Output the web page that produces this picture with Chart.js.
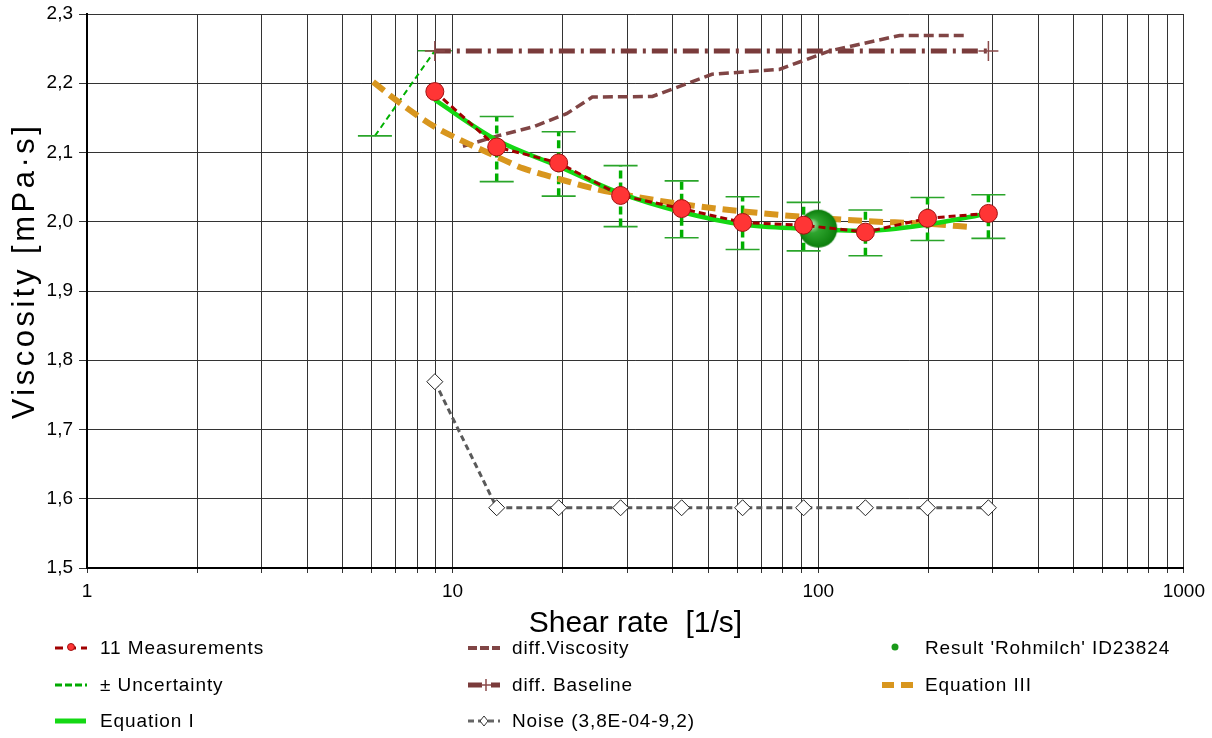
<!DOCTYPE html>
<html>
<head>
<meta charset="utf-8">
<script src="https://cdn.jsdelivr.net/npm/chart.js@4.4.1/dist/chart.umd.min.js"></script>
<style>
  body { margin: 0; background: #fff; overflow: hidden; }
  #wrap { position: relative; width: 1212px; height: 738px; overflow: hidden; }
  #chart { position: absolute; left: 0; top: -6px; }
  #legend { position: absolute; left: 0; top: 0; width: 1212px; height: 738px; pointer-events: none;
    font-family: "Liberation Sans", Arial, sans-serif; font-size: 19px; letter-spacing: 0.9px; color: #000; }
  .sym { position: absolute; width: 34px; height: 20px; }
  .lbl { position: absolute; white-space: nowrap; line-height: 24px; }
</style>
</head>
<body>
<div id="wrap">
  <canvas id="chart" width="1212" height="744"></canvas>
  <div id="legend"></div>
</div>
<script>
// === DATOS ===
const shearRate = [8.94, 13.2, 19.5, 28.8, 42.3, 62.1, 91.2, 134.6, 199, 292];
const viscosity = [2.188, 2.108, 2.085, 2.038, 2.019, 1.999, 1.995, 1.985, 2.005, 2.012];
const uncHigh = [2.247, 2.152, 2.130, 2.081, 2.059, 2.036, 2.028, 2.017, 2.035, 2.039];
const uncLow = [2.124, 2.058, 2.037, 1.993, 1.977, 1.960, 1.958, 1.951, 1.973, 1.976];
const uncLowShear = [6.13, 13.2, 19.5, 28.8, 42.3, 62.1, 91.2, 134.6, 199, 292];
const eqI = [2.176, 2.118, 2.080, 2.041, 2.014, 1.996, 1.990, 1.987, 1.996, 2.012];
const eqIIIShear = [6.06, 7.2, 8.94, 10.7, 13.2, 15.6, 19.5, 23.5, 28.8, 42.3, 62.1, 91.2, 134.6, 199, 265];
const eqIII = [2.202, 2.171, 2.137, 2.116, 2.094, 2.077, 2.062, 2.050, 2.040, 2.0255, 2.015, 2.007, 2.001, 1.997, 1.992];
const diffViscShear = [10.67, 13.5, 16.6, 20.5, 24.1, 35.2, 51.2, 78.2, 108, 167, 258];
const diffVisc = [2.109, 2.125, 2.137, 2.156, 2.180, 2.181, 2.213, 2.220, 2.247, 2.269, 2.269];
const baselineShear = [8.94, 292];
const baseline = [2.2467, 2.2467];
const noise = [1.769, 1.587, 1.587, 1.587, 1.587, 1.587, 1.587, 1.587, 1.587, 1.587];
const resultShear = [100];
const resultVisc = [1.99];

const xMajor = [1, 10, 100, 1000];
const xTickLabels = ["1", "10", "100", "1000"];
const yMin = 1.5, yMax = 2.3, yStep = 0.1;

const FONT = '"Liberation Sans", Arial, sans-serif';

function pts(xs, ys) {
  return xs.map((x, i) => ({ x: x, y: ys[i] }));
}

// bola verde del resultado
function makeBall(r) {
  const c = document.createElement("canvas");
  c.width = c.height = r * 2 + 2;
  const g = c.getContext("2d");
  const cx = r + 1;
  const grad = g.createRadialGradient(cx - r * 0.45, cx - r * 0.25, r * 0.05, cx, cx, r);
  grad.addColorStop(0, "#d8f0d8");
  grad.addColorStop(0.35, "#2fa52f");
  grad.addColorStop(1, "#0b7d0b");
  g.fillStyle = grad;
  g.beginPath();
  g.arc(cx, cx, r, 0, Math.PI * 2);
  g.fill();
  return c;
}

// barras de incertidumbre
const errorBars = {
  id: "errorBars",
  beforeDatasetsDraw(chart) {
    const { ctx, scales: { x, y }, chartArea } = chart;
    ctx.save();
    ctx.beginPath();
    ctx.rect(chartArea.left, chartArea.top, chartArea.right - chartArea.left, chartArea.bottom - chartArea.top);
    ctx.clip();
    shearRate.forEach((s, i) => {
      const xHi = x.getPixelForValue(s);
      const xLo = x.getPixelForValue(uncLowShear[i]);
      const yHi = y.getPixelForValue(uncHigh[i]);
      const yLo = y.getPixelForValue(uncLow[i]);
      const tilted = Math.abs(xHi - xLo) > 1;
      ctx.strokeStyle = "#00b000";
      ctx.lineWidth = tilted ? 2 : 3.5;
      ctx.setLineDash(tilted ? [6, 4] : [8, 4]);
      ctx.beginPath();
      ctx.moveTo(xLo, yLo);
      ctx.lineTo(xHi, yHi);
      ctx.stroke();
      ctx.setLineDash([]);
      ctx.strokeStyle = "#2aa52a";
      ctx.lineWidth = 1.6;
      [[xLo, yLo], [xHi, yHi]].forEach(([px, py]) => {
        ctx.beginPath();
        ctx.moveTo(px - 17, py);
        ctx.lineTo(px + 17, py);
        ctx.stroke();
      });
    });
    ctx.restore();
  }
};

// título del eje Y con espaciado
const yTitle = {
  id: "yTitle",
  afterDraw(chart) {
    const { ctx, chartArea } = chart;
    ctx.save();
    ctx.font = "31px " + FONT;
    if ("letterSpacing" in ctx) ctx.letterSpacing = "3.5px";
    ctx.fillStyle = "#000";
    ctx.textAlign = "center";
    ctx.textBaseline = "middle";
    ctx.translate(25, (chartArea.top + chartArea.bottom) / 2 - 20);
    ctx.rotate(-Math.PI / 2);
    ctx.fillText("Viscosity [mPa·s]", 0, 0);
    ctx.restore();
  }
};

const ctx = document.getElementById("chart").getContext("2d");
new Chart(ctx, {
  type: "line",
  data: {
    datasets: [
      {
        label: "11 Measurements",
        data: pts(shearRate, viscosity),
        borderColor: "#a00000",
        borderWidth: 3,
        borderDash: [7, 4],
        pointRadius: 9,
        pointBackgroundColor: "#ff3535",
        pointBorderColor: "#a01010",
        pointBorderWidth: 1,
        tension: 0
      },
      {
        label: "Result 'Rohmilch' ID23824",
        data: pts(resultShear, resultVisc),
        showLine: false,
        pointStyle: makeBall(19),
        pointRadius: 19
      },
      {
        label: "Equation I",
        data: pts(shearRate, eqI),
        borderColor: "#14d814",
        borderWidth: 4.5,
        pointRadius: 0,
        cubicInterpolationMode: "monotone"
      },
      {
        label: "Equation III",
        data: pts(eqIIIShear, eqIII),
        borderColor: "#d8961e",
        borderWidth: 6,
        borderDash: [14, 7],
        pointRadius: 0,
        cubicInterpolationMode: "monotone"
      },
      {
        label: "diff.Viscosity",
        data: pts(diffViscShear, diffVisc),
        borderColor: "#804545",
        borderWidth: 3.5,
        borderDash: [10, 5],
        pointRadius: 0,
        tension: 0
      },
      {
        label: "diff. Baseline",
        data: pts(baselineShear, baseline),
        borderColor: "#7a3b3b",
        borderWidth: 5,
        borderDash: [16, 6, 3, 6],
        pointStyle: "cross",
        pointRadius: 10,
        pointBorderColor: "#8a4a4a",
        pointBorderWidth: 1.5
      },
      {
        label: "Noise (3,8E-04-9,2)",
        data: pts(shearRate, noise),
        borderColor: "#5a5a5a",
        borderWidth: 3,
        borderDash: [6, 4],
        pointStyle: "rectRot",
        pointRadius: 8,
        pointBackgroundColor: "#ffffff",
        pointBorderColor: "#222222",
        pointBorderWidth: 1,
        tension: 0
      }
    ]
  },
  options: {
    responsive: false,
    animation: false,
    devicePixelRatio: 1,
    layout: { padding: { left: 0, top: 13, right: 28, bottom: 96 } },
    plugins: {
      legend: { display: false },
      tooltip: { enabled: false }
    },
    scales: {
      x: {
        type: "logarithmic",
        min: 1,
        max: 1000,
        afterBuildTicks: (scale) => {
          const t = [];
          for (let e = 0; e < 3; e++) {
            for (let d = 1; d < 10; d++) t.push({ value: d * Math.pow(10, e) });
          }
          t.push({ value: 1000 });
          scale.ticks = t;
        },
        afterFit: (scale) => { scale.height = 74; },
        ticks: {
          autoSkip: false,
          maxRotation: 0,
          padding: 7,
          color: "#000",
          font: { family: FONT, size: 19 },
          callback: (v) => {
            const i = xMajor.indexOf(v);
            return i >= 0 ? xTickLabels[i] : "";
          }
        },
        grid: { color: "#333333", lineWidth: 1, tickLength: 5 },
        border: { color: "#000", width: 2 },
        title: {
          display: true,
          text: "Shear rate  [1/s]",
          color: "#000",
          font: { family: FONT, size: 30 },
          padding: { top: 0, bottom: 0 }
        }
      },
      y: {
        min: yMin,
        max: yMax,
        afterFit: (scale) => {
          scale.width = 87;
          scale.paddingTop = 0;
          scale.paddingBottom = 0;
        },
        ticks: {
          stepSize: yStep,
          padding: 6,
          color: "#000",
          font: { family: FONT, size: 19 },
          callback: (v) => v.toFixed(1).replace(".", ",")
        },
        grid: { color: "#333333", lineWidth: 1, tickLength: 8 },
        border: { color: "#000", width: 2 },
        title: { display: false }
      }
    }
  },
  plugins: [errorBars, yTitle]
});

// === LEYENDA ===
const legendItems = [
  { label: "11 Measurements", sx: 55, tx: 100, row: 0,
    svg: '<line x1="0" y1="10" x2="32" y2="10" stroke="#a00000" stroke-width="3" stroke-dasharray="8,5"/><circle cx="16" cy="9" r="3.5" fill="#ff3535" stroke="#a01010"/>' },
  { label: "± Uncertainty", sx: 55, tx: 100, row: 1,
    svg: '<line x1="0" y1="10" x2="32" y2="10" stroke="#00aa00" stroke-width="3" stroke-dasharray="7,3"/>' },
  { label: "Equation I", sx: 55, tx: 100, row: 2,
    svg: '<line x1="0" y1="10" x2="31" y2="10" stroke="#14d814" stroke-width="5"/>' },
  { label: "diff.Viscosity", sx: 468, tx: 512, row: 0,
    svg: '<line x1="0" y1="10" x2="32" y2="10" stroke="#804545" stroke-width="4" stroke-dasharray="9,3"/>' },
  { label: "diff. Baseline", sx: 468, tx: 512, row: 1,
    svg: '<line x1="0" y1="10" x2="14" y2="10" stroke="#7a3b3b" stroke-width="5"/><line x1="23" y1="10" x2="32" y2="10" stroke="#7a3b3b" stroke-width="5"/><line x1="18" y1="4" x2="18" y2="16" stroke="#8a4a4a" stroke-width="1.5"/><line x1="13" y1="10" x2="23" y2="10" stroke="#8a4a4a" stroke-width="1.5"/>' },
  { label: "Noise (3,8E-04-9,2)", sx: 468, tx: 512, row: 2,
    svg: '<line x1="0" y1="10" x2="32" y2="10" stroke="#666" stroke-width="3" stroke-dasharray="6,4"/><path d="M16 5 L20 10 L16 15 L12 10 Z" fill="#fff" stroke="#333" stroke-width="1"/>' },
  { label: "Result 'Rohmilch' ID23824", sx: 882, tx: 925, row: 0,
    svg: '<circle cx="13" cy="9" r="3.5" fill="#1a9a1a"/>' },
  { label: "Equation III", sx: 882, tx: 925, row: 1,
    svg: '<line x1="0" y1="10" x2="32" y2="10" stroke="#d8961e" stroke-width="6" stroke-dasharray="12,7"/>' }
];
const rowY = [648, 685, 721];
const legendEl = document.getElementById("legend");
legendItems.forEach((it) => {
  const y = rowY[it.row];
  const s = document.createElement("div");
  s.className = "sym";
  s.style.left = it.sx + "px";
  s.style.top = (y - 10) + "px";
  s.innerHTML = '<svg width="34" height="20" xmlns="http://www.w3.org/2000/svg">' + it.svg + "</svg>";
  legendEl.appendChild(s);
  const t = document.createElement("div");
  t.className = "lbl";
  t.style.left = it.tx + "px";
  t.style.top = (y - 12) + "px";
  t.textContent = it.label;
  legendEl.appendChild(t);
});
</script>
</body>
</html>
